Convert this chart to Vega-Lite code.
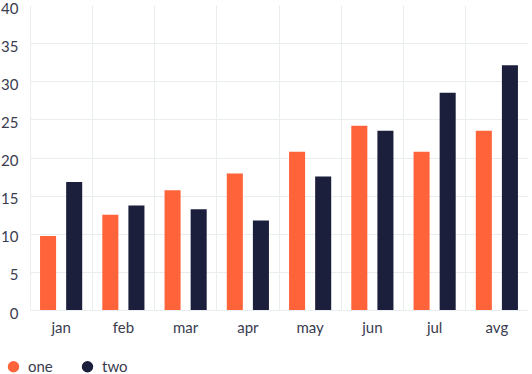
{
  "$schema": "https://vega.github.io/schema/vega-lite/v6.json",
  "autosize": "none",
  "width": 498,
  "height": 305,
  "padding": {"left": 30, "top": 5, "right": 4, "bottom": 64},
  "background": "white",
  "config": {
    "font": "Lato",
    "view": {"stroke": null},
    "axis": {"labelColor": "#3a3c50", "labelFontSize": 15, "gridColor": "#e8edef", "gridWidth": 1}
  },
  "data": {
    "values": [
      {"month": "jan", "series": "one", "value": 9.7},
      {"month": "jan", "series": "two", "value": 16.8},
      {"month": "feb", "series": "one", "value": 12.5},
      {"month": "feb", "series": "two", "value": 13.7},
      {"month": "mar", "series": "one", "value": 15.7},
      {"month": "mar", "series": "two", "value": 13.2},
      {"month": "apr", "series": "one", "value": 17.9},
      {"month": "apr", "series": "two", "value": 11.75},
      {"month": "may", "series": "one", "value": 20.75},
      {"month": "may", "series": "two", "value": 17.5},
      {"month": "jun", "series": "one", "value": 24.15},
      {"month": "jun", "series": "two", "value": 23.5},
      {"month": "jul", "series": "one", "value": 20.75},
      {"month": "jul", "series": "two", "value": 28.5},
      {"month": "avg", "series": "one", "value": 23.5},
      {"month": "avg", "series": "two", "value": 32.1}
    ]
  },
  "mark": {"type": "bar"},
  "encoding": {
    "x": {
      "field": "month", "type": "nominal", "sort": null,
      "scale": {"paddingInner": 0, "paddingOuter": 0},
      "axis": {"title": null, "labelAngle": 0, "ticks": false, "domain": false, "grid": true, "bandPosition": 0, "labelPadding": 10, "labelBaseline": "top"}
    },
    "xOffset": {
      "field": "series", "type": "nominal",
      "scale": {"paddingInner": 0.385, "paddingOuter": 0.385}
    },
    "y": {
      "field": "value", "type": "quantitative",
      "scale": {"domain": [0, 40], "nice": false},
      "axis": {"title": null, "ticks": false, "domain": false, "values": [0, 5, 10, 15, 20, 25, 30, 35, 40], "labelPadding": 12, "labelOffset": 3,
        "gridOpacity": {"condition": {"test": "datum.value == 40", "value": 0}, "value": 1}}
    },
    "color": {
      "field": "series", "type": "nominal",
      "scale": {"domain": ["one", "two"], "range": ["#ff633a", "#1c1f3b"]},
      "legend": {
        "title": null, "orient": "none", "direction": "horizontal",
        "legendX": -24, "legendY": 354,
        "symbolType": "circle", "symbolSize": 130, "symbolOpacity": 1,
        "labelFontSize": 15, "labelColor": "#3a3c50", "labelOffset": 7,
        "columnPadding": 27
      }
    }
  }
}
